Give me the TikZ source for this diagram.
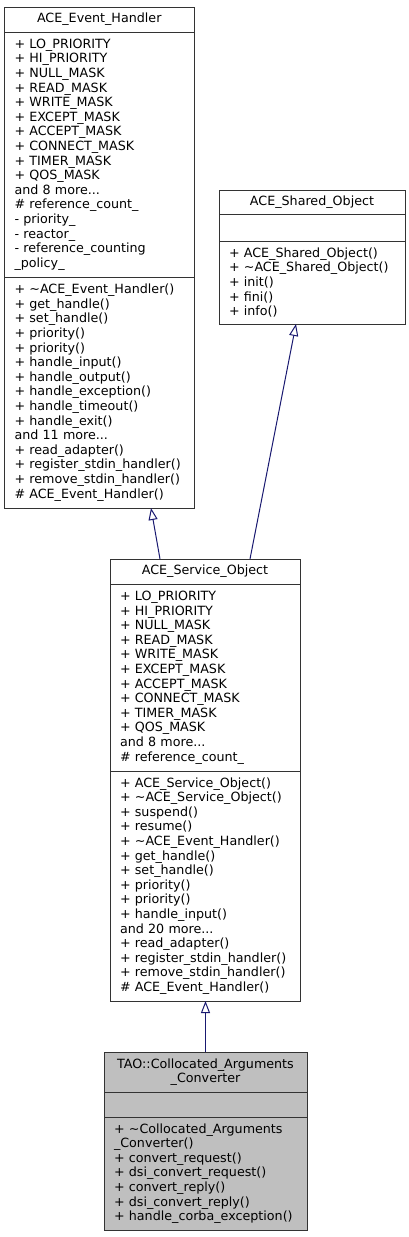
\documentclass[tikz,border=0pt]{standalone}
\usepackage{fontspec}
\setmainfont{DejaVu Sans}
\usetikzlibrary{positioning,arrows.meta}
\definecolor{edgeblue}{HTML}{191970}
\definecolor{boxgray}{HTML}{BFBFBF}

\begin{document}
\begin{tikzpicture}[x=1pt, y=-1pt,
    part/.style={draw=black!80, line width=1pt, fill=white, outer sep=0pt,
        inner xsep=10pt, inner ysep=0pt, font=\fontsize{12.7}{14.6}\selectfont},
    head/.style={part, align=center},
    body/.style={part, align=left},
    shaded/.style={fill=boxgray},
    inherit/.style={draw=edgeblue, line width=1pt, -{Triangle[open, length=12pt, width=9pt]}},
]
    \useasboundingbox (0,0) rectangle (409,1237);

    % ACE_Event_Handler
    \node[head, text width=169.5pt, minimum height=25pt, anchor=north west] (eh) at (4.5,7) {ACE\_Event\_Handler};
    \node[body, text width=169.5pt, minimum height=245pt, below=0pt of eh] (eha) {%
        + LO\_PRIORITY\\+ HI\_PRIORITY\\+ NULL\_MASK\\+ READ\_MASK\\+ WRITE\_MASK\\
        + EXCEPT\_MASK\\+ ACCEPT\_MASK\\+ CONNECT\_MASK\\+ TIMER\_MASK\\+ QOS\_MASK\\
        and 8 more...\\\# reference\_count\_\\- priority\_\\- reactor\_\\- reference\_counting\\\_policy\_};
    \node[body, text width=169.5pt, minimum height=231pt, below=0pt of eha] (ehm) {%
        + \textasciitilde ACE\_Event\_Handler()\\+ get\_handle()\\+ set\_handle()\\+ priority()\\+ priority()\\
        + handle\_input()\\+ handle\_output()\\+ handle\_exception()\\+ handle\_timeout()\\+ handle\_exit()\\
        and 11 more...\\+ read\_adapter()\\+ register\_stdin\_handler()\\+ remove\_stdin\_handler()\\\# ACE\_Event\_Handler()};

    % ACE_Shared_Object
    \node[head, text width=166pt, minimum height=24pt, anchor=north west] (sh) at (219,190) {ACE\_Shared\_Object};
    \node[body, text width=166pt, minimum height=27pt, below=0pt of sh] (sha) {};
    \node[body, text width=166pt, minimum height=83pt, below=0pt of sha] (shm) {%
        + ACE\_Shared\_Object()\\+ \textasciitilde ACE\_Shared\_Object()\\+ init()\\+ fini()\\+ info()};

    % ACE_Service_Object
    \node[head, text width=170pt, minimum height=25pt, anchor=north west] (so) at (110,559) {ACE\_Service\_Object};
    \node[body, text width=170pt, minimum height=187pt, below=0pt of so] (soa) {%
        + LO\_PRIORITY\\+ HI\_PRIORITY\\+ NULL\_MASK\\+ READ\_MASK\\+ WRITE\_MASK\\
        + EXCEPT\_MASK\\+ ACCEPT\_MASK\\+ CONNECT\_MASK\\+ TIMER\_MASK\\+ QOS\_MASK\\
        and 8 more...\\\# reference\_count\_};
    \node[body, text width=170pt, minimum height=230pt, below=0pt of soa] (som) {%
        + ACE\_Service\_Object()\\+ \textasciitilde ACE\_Service\_Object()\\+ suspend()\\+ resume()\\
        + \textasciitilde ACE\_Event\_Handler()\\+ get\_handle()\\+ set\_handle()\\+ priority()\\+ priority()\\
        + handle\_input()\\and 20 more...\\+ read\_adapter()\\+ register\_stdin\_handler()\\
        + remove\_stdin\_handler()\\\# ACE\_Event\_Handler()};

    % TAO::Collocated_Arguments_Converter
    \node[head, shaded, text width=183pt, minimum height=40pt, anchor=north west] (tao) at (104,1052) {TAO::Collocated\_Arguments\\\_Converter};
    \node[body, shaded, text width=183pt, minimum height=25pt, below=0pt of tao] (taoa) {};
    \node[body, shaded, text width=183pt, minimum height=113pt, below=0pt of taoa] (taom) {%
        + \textasciitilde Collocated\_Arguments\\\_Converter()\\+ convert\_request()\\+ dsi\_convert\_request()\\
        + convert\_reply()\\+ dsi\_convert\_reply()\\+ handle\_corba\_exception()};

    % inheritance
    \draw[inherit] ([xshift=50pt]so.north west) -- ([xshift=146.5pt]ehm.south west);
    \draw[inherit] ([xshift=140pt]so.north west) -- ([xshift=77pt]shm.south west);
    \draw[inherit] (tao.north) -- (tao.north |- som.south);
\end{tikzpicture}
\end{document}
